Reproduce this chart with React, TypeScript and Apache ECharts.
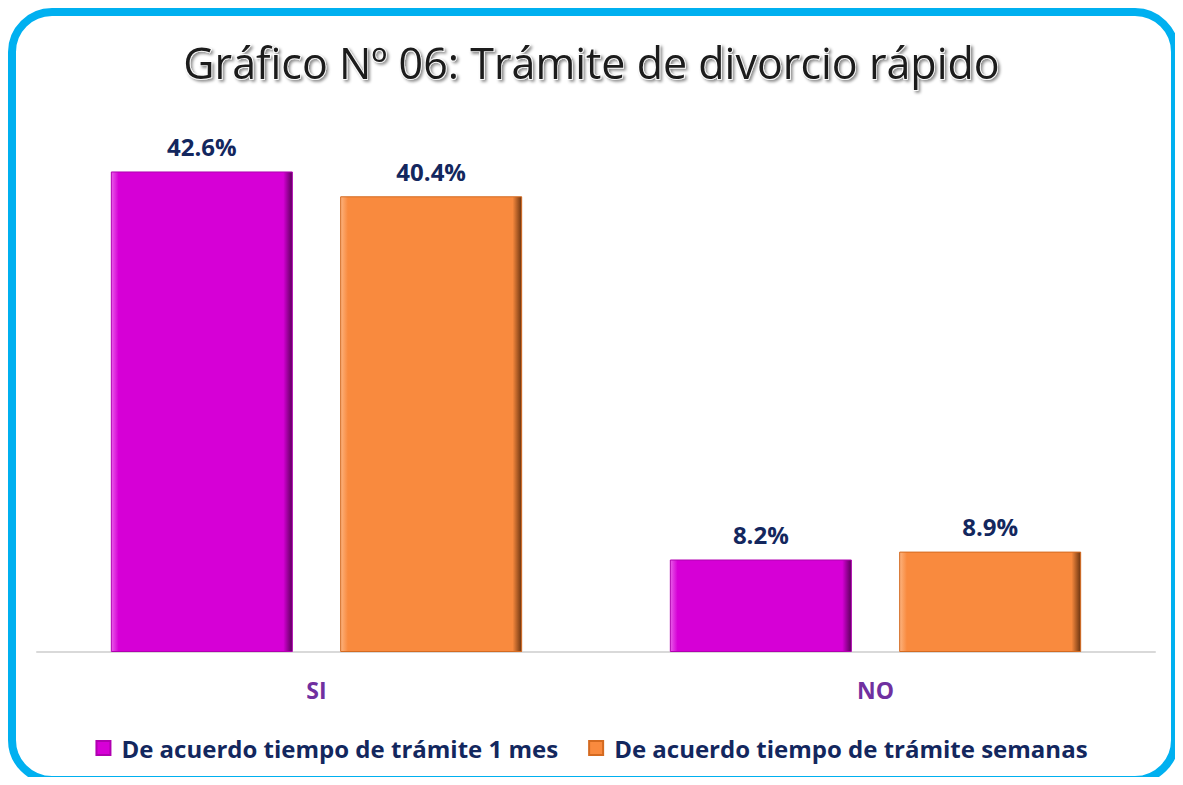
import React, { useEffect, useRef } from "react";
import * as echarts from "echarts";

const categories = ["SI", "NO"];
const serie1Name = "De acuerdo tiempo de trámite 1 mes";
const serie2Name = "De acuerdo tiempo de trámite semanas";
const serie1Values = [42.6, 8.2];
const serie2Values = [40.4, 8.9];
const titleText = "Gráfico Nº 06: Trámite de divorcio rápido";

const FONT = "'Open Sans', sans-serif";

function bevel(base: string, light: string, dark: string) {
  return new echarts.graphic.LinearGradient(0, 0, 1, 0, [
    { offset: 0, color: light },
    { offset: 0.04, color: base },
    { offset: 0.95, color: base },
    { offset: 1, color: dark },
  ]);
}

export default function App() {
  const ref = useRef<HTMLDivElement>(null);
  useEffect(() => {
    if (!ref.current) return;
    const chart = echarts.init(ref.current, null, { renderer: "svg" });
    const labelStyle = {
      show: true,
      position: "top" as const,
      distance: 13,
      formatter: (p: any) => p.value.toFixed(1) + "%",
      color: "#13275e",
      fontFamily: FONT,
      fontWeight: "bold" as const,
      fontSize: 24,
    };
    chart.setOption({
      animation: false,
      backgroundColor: "#ffffff",
      graphic: [
        {
          type: "rect",
          shape: { x: 12, y: 12, width: 1163, height: 768, r: 40 },
          style: { fill: "none", stroke: "#00b0f0", lineWidth: 8 },
          z: 0,
        },
      ],
      title: {
        text: titleText,
        left: "center",
        top: 36,
        textStyle: {
          fontFamily: FONT,
          fontSize: 43,
          fontWeight: "normal",
          color: "#1a1a1a",
          textBorderColor: "#ffffff",
          textBorderWidth: 1.5,
          textShadowColor: "rgba(0,0,0,0.45)",
          textShadowBlur: 3,
          textShadowOffsetX: 2,
          textShadowOffsetY: 2,
        },
      },
      legend: {
        bottom: 20,
        left: "center",
        itemWidth: 14,
        itemHeight: 14,
        itemGap: 30,
        icon: "rect",
        textStyle: {
          fontFamily: FONT,
          fontWeight: "bold",
          fontSize: 24,
          color: "#13275e",
          padding: [0, 0, 0, 6],
        },
        data: [serie1Name, serie2Name],
      },
      grid: { left: 37, right: 28, top: 88, height: 564, containLabel: false },
      xAxis: {
        type: "category",
        data: categories,
        axisLine: { lineStyle: { color: "#d9d9d9", width: 2 } },
        axisTick: { show: false },
        axisLabel: {
          margin: 26,
          fontFamily: FONT,
          fontWeight: "bold",
          fontSize: 23,
          color: "#7030a0",
        },
      },
      yAxis: {
        type: "value",
        min: 0,
        max: 50,
        show: false,
        splitLine: { show: false },
      },
      series: [
        {
          name: serie1Name,
          type: "bar",
          data: serie1Values,
          barWidth: 182,
          barGap: "26%",
          itemStyle: {
            color: bevel("#d600d6", "#e85ce8", "#5a005a"),
            borderColor: "#b000b0",
            borderWidth: 1,
          },
          label: labelStyle,
        },
        {
          name: serie2Name,
          type: "bar",
          data: serie2Values,
          barWidth: 182,
          itemStyle: {
            color: bevel("#f98a3e", "#fcb37f", "#6b3410"),
            borderColor: "#d46a20",
            borderWidth: 1,
          },
          label: labelStyle,
        },
      ],
    });
    return () => chart.dispose();
  }, []);
  return <div ref={ref} style={{ width: 1183, height: 785, margin: -8 }} />;
}
